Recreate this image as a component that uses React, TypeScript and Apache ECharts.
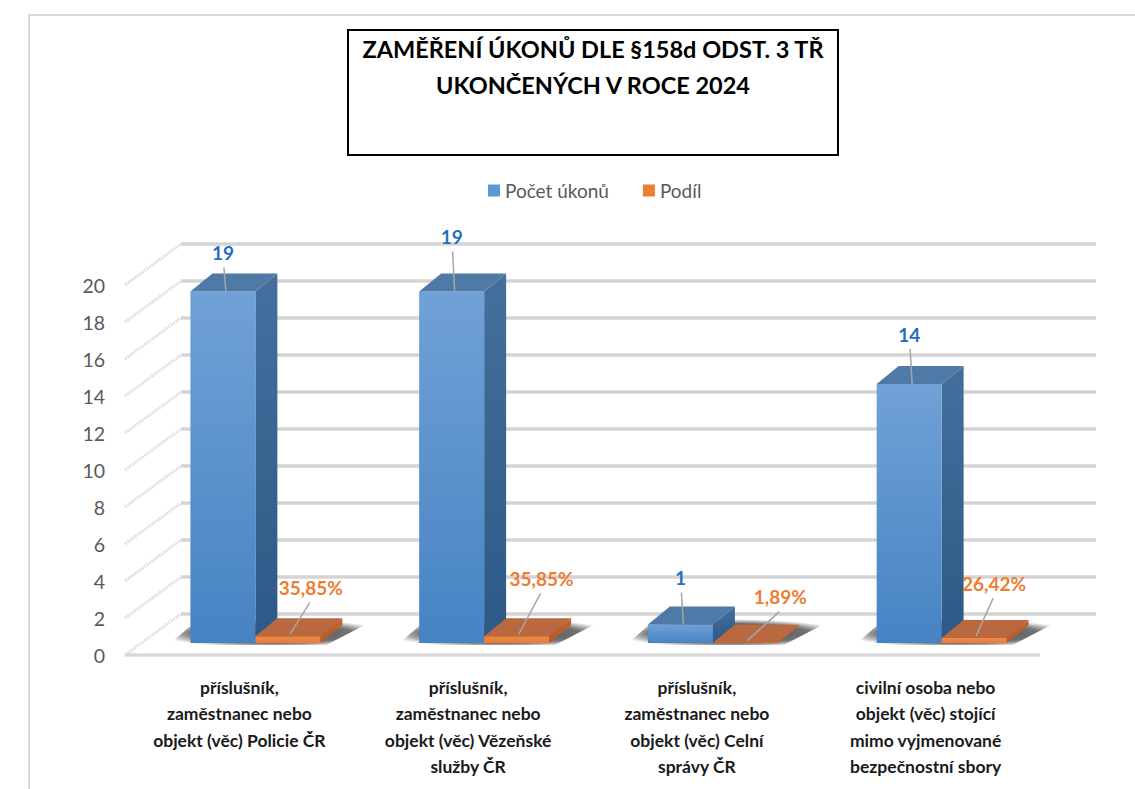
import React, { useEffect, useRef } from "react";
import * as echarts from "echarts";

const categories = [
  "příslušník,\nzaměstnanec nebo\nobjekt (věc) Policie ČR",
  "příslušník,\nzaměstnanec nebo\nobjekt (věc) Vězeňské\nslužby ČR",
  "příslušník,\nzaměstnanec nebo\nobjekt (věc) Celní\nsprávy ČR",
  "civilní osoba nebo\nobjekt (věc) stojící\nmimo vyjmenované\nbezpečnostní sbory",
];
const countValues = [19, 19, 1, 14];
const shareValues = [0.3585, 0.3585, 0.0189, 0.2642];
const yMin = 0;
const yMax = 20;
const yInterval = 2;
const titleText = "ZAMĚŘENÍ ÚKONŮ DLE §158d ODST. 3 TŘ\nUKONČENÝCH V ROCE 2024";
const seriesNames = ["Počet úkonů", "Podíl"];

// label placement tweaks (style only)
const countLabelOffsets = [[0, -39], [0, -55], [0, -47], [0, -50]];
const shareLabelOffsets = [[23, -49], [25, -58], [35, -46], [20, -55]];

const FONT = "Lato, 'Open Sans', sans-serif";
const WALL_DX = 56;
const WALL_DY = -41;
const PLANE_DX = 16;
const PLANE_DY = -12;
const BAR_DX = 22;
const BAR_DY = -18;
const BAR_FRAC = 0.284;

const fmtShare = (v: number) => (v * 100).toFixed(2).replace(".", ",") + "%";

function barGeom(api: any, idx: number, v: number, side: number) {
  const base = api.coord([idx, 0]);
  const top = api.coord([idx, v]);
  const band = api.size([1, 0])[0];
  const bw = band * BAR_FRAC;
  const cx = base[0] + PLANE_DX;
  const y0 = base[1] + PLANE_DY;
  const yT = top[1] + PLANE_DY;
  const x0 = side === 0 ? cx - bw : cx;
  return { x0, x1: x0 + bw, y0, yT, bw };
}

function makeBarRender(side: number, pal: any, offsets: number[][], labelColor: string, fmt: (v: number) => string, leader: number[]) {
  return (params: any, api: any) => {
    const idx = api.value(0);
    const v = api.value(1);
    const { x0, x1, y0, yT } = barGeom(api, idx, v, side);
    const fc = (x0 + x1) / 2;
    const lx = fc + offsets[idx][0];
    const ly = yT + offsets[idx][1];
    return {
      type: "group",
      children: [
        {
          type: "polygon",
          shape: { points: [[x1, yT], [x1 + BAR_DX, yT + BAR_DY], [x1 + BAR_DX, y0 + BAR_DY], [x1, y0]] },
          style: {
            fill: new echarts.graphic.LinearGradient(0, 0, 0, 1, [
              { offset: 0, color: pal.sideTop },
              { offset: 1, color: pal.sideBot },
            ]),
          },
        },
        {
          type: "rect",
          shape: { x: x0, y: yT, width: x1 - x0, height: Math.max(y0 - yT, 0.5) },
          style: {
            fill: new echarts.graphic.LinearGradient(0, 0, 0, 1, [
              { offset: 0, color: pal.frontTop },
              { offset: 1, color: pal.frontBot },
            ]),
          },
        },
        {
          type: "polygon",
          shape: { points: [[x0, yT], [x1, yT], [x1 + BAR_DX, yT + BAR_DY], [x0 + BAR_DX, yT + BAR_DY]] },
          style: { fill: pal.top },
        },
        {
          type: "line",
          shape: { x1: lx + leader[0], y1: ly + 15, x2: fc + leader[1], y2: yT + leader[2] },
          style: { stroke: "#a6a6a6", lineWidth: 1.5 },
        },
        {
          type: "text",
          x: lx,
          y: ly,
          style: {
            text: fmt(v),
            fill: labelColor,
            font: "bold 19px " + FONT,
            textAlign: "center",
            textVerticalAlign: "middle",
          },
        },
      ],
    };
  };
}

export default function App() {
  const ref = useRef<HTMLDivElement>(null);
  useEffect(() => {
    if (!ref.current) return;
    const chart = echarts.init(ref.current, undefined, { renderer: "svg" });
    const ticks: number[] = [];
    for (let t = yMin; t <= yMax; t += yInterval) ticks.push(t);

    const option: any = {
      animation: false,
      backgroundColor: "#ffffff",
      legend: {
        data: seriesNames,
        left: 488,
        top: 181,
        padding: 0,
        itemWidth: 12,
        itemHeight: 12,
        itemGap: 34,
        icon: "rect",
        textStyle: { fontFamily: FONT, fontSize: 19, color: "#595959" },
      },
      grid: { left: 125, top: 285, width: 915, height: 370, outerBoundsMode: "none" },
      xAxis: {
        type: "category",
        data: categories,
        axisLine: { show: false },
        axisTick: { show: false },
        splitLine: { show: false },
        axisLabel: {
          interval: 0,
          margin: 19,
          fontFamily: FONT,
          fontSize: 17.5,
          fontWeight: "bold",
          color: "#1a1a1a",
          lineHeight: 26.5,
        },
      },
      yAxis: {
        type: "value",
        min: yMin,
        max: yMax,
        interval: yInterval,
        axisLine: { show: false },
        axisTick: { show: false },
        splitLine: { show: false },
        axisLabel: { margin: 20, fontFamily: FONT, fontSize: 19.5, color: "#595959" },
      },
      graphic: [
        {
          type: "rect",
          z: -10,
          shape: { x: 29, y: 15, width: 1300, height: 1000 },
          style: { fill: "none", stroke: "#d9d9d9", lineWidth: 2 },
        },
        {
          type: "rect",
          shape: { x: 348, y: 30, width: 490, height: 125 },
          style: { fill: "#ffffff", stroke: "#000000", lineWidth: 2 },
        },
        {
          type: "text",
          x: 593,
          y: 31,
          style: {
            text: titleText,
            font: "bold 23.5px " + FONT,
            textAlign: "center",
            lineHeight: 36,
            fill: "#000000",
          },
        },
      ],
      series: [
        {
          type: "custom",
          name: "grid",
          silent: true,
          data: ticks.map((t) => [0, t]),
          renderItem: (params: any, api: any) => {
            const cs = params.coordSys;
            const t = api.value(1);
            const p = api.coord([0, t]);
            const y = p[1];
            const left = cs.x;
            const right = cs.x + cs.width;
            const children: any[] = [
              {
                type: "line",
                shape: { x1: left + WALL_DX, y1: y + WALL_DY, x2: right + WALL_DX, y2: y + WALL_DY },
                style: { stroke: "#d4d4d4", lineWidth: 3.5 },
              },
              {
                type: "line",
                shape: { x1: left, y1: y, x2: left + WALL_DX, y2: y + WALL_DY },
                style: { stroke: "#e0e0e0", lineWidth: 3, lineDash: [2, 1] },
              },
            ];
            if (t === yMin) {
              children.push({
                type: "line",
                shape: { x1: left, y1: y, x2: right, y2: y },
                style: { stroke: "#d9d9d9", lineWidth: 3.5 },
              });
            }
            return { type: "group", children };
          },
        },
        {
          type: "custom",
          name: "shadow",
          silent: true,
          data: countValues.map((v, i) => [i, v]),
          renderItem: (params: any, api: any) => {
            const idx = api.value(0);
            const b = barGeom(api, idx, 0, 0);
            const o = barGeom(api, idx, 0, 1);
            const y0 = b.y0 + 2;
            return {
              type: "polygon",
              shape: {
                points: [
                  [b.x0 - 22, y0],
                  [o.x1 + 6, y0],
                  [o.x1 + 56, y0 - 26],
                  [b.x0 + 8, y0 - 26],
                ],
              },
              style: {
                fill: new echarts.graphic.RadialGradient(0.5, 0.55, 0.55, [
                  { offset: 0, color: "rgba(0,0,0,0.75)" },
                  { offset: 0.7, color: "rgba(0,0,0,0.55)" },
                  { offset: 1, color: "rgba(0,0,0,0)" },
                ]),
              },
            };
          },
        },
        {
          type: "custom",
          name: seriesNames[0],
          itemStyle: { color: "#5b9bd5" },
          data: countValues.map((v, i) => [i, v]),
          renderItem: makeBarRender(
            0,
            { frontTop: "#70a1d6", frontBot: "#4683c4", sideTop: "#456f9c", sideBot: "#2c5985", top: "#4f79a6" },
            countLabelOffsets,
            "#1f6fbf",
            (v) => String(v),
            [1, 3, 0]
          ),
        },
        {
          type: "custom",
          name: seriesNames[1],
          itemStyle: { color: "#ed7d31" },
          data: shareValues.map((v, i) => [i, v]),
          renderItem: makeBarRender(
            1,
            { frontTop: "#f08a42", frontBot: "#ec7b30", sideTop: "#c2622c", sideBot: "#b85a26", top: "#b9683f" },
            shareLabelOffsets,
            "#ed7d31",
            fmtShare,
            [-1, 2, -2]
          ),
        },
      ],
    };
    chart.setOption(option);
    return () => chart.dispose();
  }, []);
  return (
    <div
      ref={ref}
      style={{ position: "fixed", left: 0, top: 0, width: 1135, height: 789, background: "#fff" }}
    />
  );
}
